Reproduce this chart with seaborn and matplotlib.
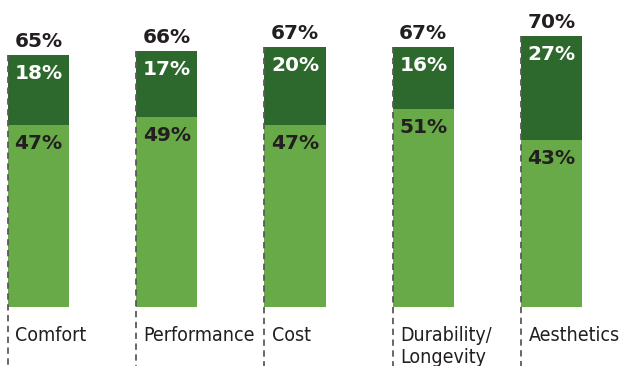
import matplotlib
matplotlib.use("Agg")
import matplotlib.pyplot as plt
import seaborn as sns
import pandas as pd

# Survey factors and their two stacked shares (percent)
categories = ["Comfort", "Performance", "Cost", "Durability/\nLongevity", "Aesthetics"]
lower_share = [47, 49, 47, 51, 43]
upper_share = [18, 17, 20, 16, 27]
total_share = [65, 66, 67, 67, 70]

LIGHT = "#67aa47"
DARK = "#2d682c"
INK = "#231f20"

sns.set_theme(style="white")
plt.rcParams["font.family"] = ["DejaVu Sans"]

df = pd.DataFrame({"cat": categories, "lower": lower_share,
                   "upper": upper_share, "total": total_share})

fig = plt.figure(figsize=(6.24, 3.66), dpi=100)
ax = fig.add_axes([0, 0, 1, 1])

bw = 0.476
# full height in dark green, lower share overdrawn in light green
sns.barplot(data=df, x="cat", y="total", color=DARK, width=bw,
            saturation=1, ax=ax, zorder=2, linewidth=0)
sns.barplot(data=df, x="cat", y="lower", color=LIGHT, width=bw,
            saturation=1, ax=ax, zorder=2, linewidth=0)

ax.set_xlim(-0.300, 4.565)
ax.set_ylim(-15.2, 79.2)
ax.axis("off")

px = 3.875  # pixels per percentage point
for i, (lo, up, tot, name) in enumerate(zip(lower_share, upper_share, total_share, categories)):
    left = i - bw / 2
    # dashed guide along the left edge of each bar
    ax.plot([left, left], [tot, -16], ls=(0, (3.5, 2.5)), lw=1.3,
            color="#5a5a5a", zorder=3, clip_on=False)
    ax.text(i, tot + 8 / px, f"{tot}%", ha="center", va="baseline",
            fontsize=14.5, fontweight="heavy", color=INK)
    ax.text(i, tot - 24 / px, f"{up}%", ha="center", va="baseline",
            fontsize=14.5, fontweight="heavy", color="white")
    ax.text(i, lo - 24 / px, f"{lo}%", ha="center", va="baseline",
            fontsize=14.5, fontweight="heavy", color=INK)
    ax.text(left + 7.5 / 128.25, -19 / px, name, ha="left", va="top",
            fontsize=14, color=INK, linespacing=1.22, fontstretch="condensed")

fig.savefig("out.png", dpi=100)
